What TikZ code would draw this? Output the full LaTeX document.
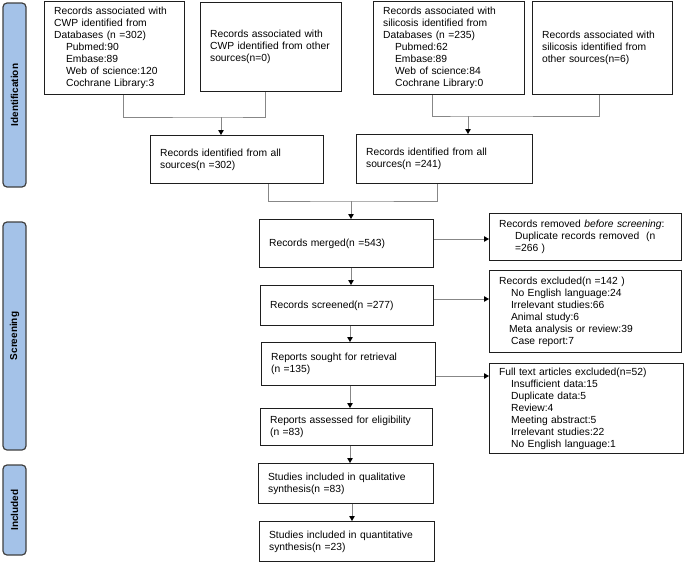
\documentclass[tikz,border=0pt]{standalone}
\usepackage{fontspec}
\setmainfont{Liberation Sans}
\usetikzlibrary{arrows.meta,calc}
\definecolor{stagefill}{RGB}{164,194,232}
\definecolor{stageline}{RGB}{64,64,64}
\definecolor{boxline}{RGB}{30,30,30}
\definecolor{conn}{RGB}{135,135,135}
\newcommand\bx[6]{%
  \pgfmathsetmacro\bw{#4-#2}\pgfmathsetmacro\bh{#5-#3}\pgfmathsetmacro\tw{#4-#2-19}%
  \node[box, minimum width=\bw pt, minimum height=\bh pt, text width=\tw pt] (#1) at (#2,#3) {#6};}
\newcommand\ind[1][12]{\hspace*{#1pt}}
\begin{document}
\begin{tikzpicture}[x=1pt,y=-1pt,
  box/.style={draw=boxline, line width=1.2pt, inner xsep=9.5pt, inner ysep=1pt,
    align=left, anchor=north west, font=\fontsize{10.3}{12}\selectfont},
  stage/.style={draw=stageline, fill=stagefill, line width=1.2pt, rounded corners=4pt,
    rotate=90, minimum height=23pt, inner sep=0pt,
    font=\fontsize{10}{12}\selectfont\bfseries},
  gline/.style={draw=conn, line width=0.9pt},
  arr/.style={draw=conn, line width=0.9pt, -{Triangle[length=5pt,width=5.5pt,color=black]}}]
\useasboundingbox (0,0) rectangle (685,562);
% stage bars
\node[stage, minimum width=184pt] (sid) at (14.5,95) {Identification};
\node[stage, minimum width=228pt] (ssc) at (14.5,336) {Screening};
\node[stage, minimum width=90pt] (sin) at (14.5,510) {Included};
% boxes
\bx{A}{44}{1}{184}{94}{Records associated with\\CWP identified from\\Databases (n =302)\\\ind Pubmed:90\\\ind Embase:89\\\ind Web of science:120\\\ind Cochrane Library:3}
\bx{B}{200}{2}{341}{91}{Records associated with\\CWP identified from other\\sources(n=0)}
\bx{C}{150}{135}{323}{183}{Records identified from all\\sources(n =302)}
\bx{D}{373}{1}{524}{94}{Records associated with\\silicosis identified from\\Databases (n =235)\\\ind Pubmed:62\\\ind Embase:89\\\ind Web of science:84\\\ind Cochrane Library:0}
\bx{E}{532}{1}{672}{94}{Records associated with\\silicosis identified from\\other sources(n=6)}
\bx{F}{356}{134}{532}{183}{Records identified from all\\sources(n =241)}
\bx{merged}{259}{219}{433}{267}{Records merged(n =543)}
\bx{screened}{260}{285}{433}{325}{Records screened(n =277)}
\bx{sought}{261}{342}{435}{385}{Reports sought for retrieval\\(n =135)}
\bx{assessed}{260}{408}{432}{445}{Reports assessed for eligibility\\(n =83)}
\bx{qual}{258}{463}{433}{503}{Studies included in qualitative\\synthesis(n =83)}
\bx{quant}{259}{521}{434}{561}{Studies included in quantitative\\synthesis(n =23)}
\bx{removed}{489}{213}{681}{260}{Records removed \textit{before screening}:\\\ind[16]Duplicate records removed\ \ (n\\\ind[16]=266 )}
\bx{excluded}{489}{270}{681}{352}{Records excluded(n =142 )\\\ind No English language:24\\\ind Irrelevant studies:66\\\ind Animal study:6\\\ind[10]Meta analysis or review:39\\\ind Case report:7}
\bx{fulltext}{489}{363}{683}{453}{Full text articles excluded(n=52)\\\ind Insufficient data:15\\\ind Duplicate data:5\\\ind Review:4\\\ind Meeting abstract:5\\\ind Irrelevant studies:22\\\ind No English language:1}
% junctions
\coordinate (j1) at (221,117);
\coordinate (j2) at (468,116);
\coordinate (j3) at (351,201);
% identification connectors
\draw[gline] ($(A.south west)+(79,0)$) |- (j1) -| ($(B.south west)+(65,0)$);
\draw[arr] (j1) -- (j1 |- C.north);
\draw[gline] ($(D.south west)+(59,0)$) |- (j2) -| ($(E.south west)+(67,0)$);
\draw[arr] (j2) -- (j2 |- F.north);
\draw[gline] ($(C.south west)+(118,0)$) |- (j3) -| ($(F.south west)+(81,0)$);
\draw[arr] (j3) -- (j3 |- merged.north);
% main column
\draw[arr] ($(merged.south west)+(92,0)$) -- ($(screened.north west)+(91,0)$);
\draw[arr] ($(screened.south west)+(90,0)$) -- ($(sought.north west)+(89,0)$);
\draw[arr] ($(sought.south west)+(89,0)$) -- ($(assessed.north west)+(90,0)$);
\draw[arr] ($(assessed.south west)+(90,0)$) -- ($(qual.north west)+(92,0)$);
\draw[arr] ($(qual.south west)+(94,0)$) -- ($(quant.north west)+(93,0)$);
% side arrows
\coordinate (h1) at ($(merged.north east)+(0,20)$);
\coordinate (h2) at ($(screened.north east)+(0,14)$);
\coordinate (h3) at ($(sought.north east)+(0,34)$);
\draw[arr] (h1) -- (h1 -| removed.west);
\draw[arr] (h2) -- (h2 -| excluded.west);
\draw[arr] (h3) -- (h3 -| fulltext.west);
\end{tikzpicture}
\end{document}
